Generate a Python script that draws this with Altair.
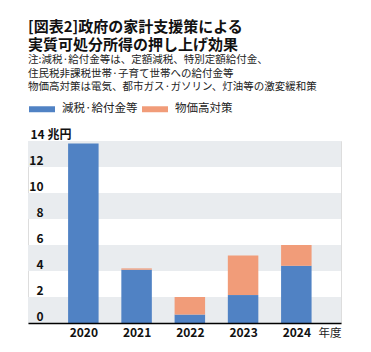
import altair as alt
import pandas as pd

years = [2020, 2021, 2022, 2023, 2024]
tax_benefit = [13.8, 4.1, 0.65, 2.15, 4.4]
price_measures = [0.0, 0.1, 1.35, 3.05, 1.6]
series = ["減税·給付金等", "物価高対策"]
colors = ["#5082c4", "#f19c79"]
band_lo = [0, 4, 8, 12]
band_hi = [2, 6, 10, 14]
y_ticks = [0, 2, 4, 6, 8, 10, 12, 14]

FONT = "Noto Sans CJK JP"

rows = []
for i, y in enumerate(years):
    rows.append({"year": y, "series": series[0], "value": tax_benefit[i], "ord": 0})
    rows.append({"year": y, "series": series[1], "value": price_measures[i], "ord": 1})
df = pd.DataFrame(rows)
bands = pd.DataFrame({"lo": band_lo, "hi": band_hi})

xscale = alt.Scale(domain=[2019.0545, 2024.745], nice=False, zero=False)
yscale = alt.Scale(domain=[0, 14], nice=False)

yaxis = alt.Axis(values=y_ticks, title=None, grid=False, domain=False, ticks=False,
                 labelFont=FONT, labelFontSize=12, labelFontWeight="bold",
                 labelColor="#111", labelFlush=False, labelOverlap=False,
                 labelBaseline="alphabetic", labelOffset=-2.5, zindex=1,
                 labelExpr="datum.value == 14 ? '14 兆円' : datum.label",
                 labelAlign={"condition": {"test": "datum.value == 14", "value": "left"}, "value": "right"},
                 labelPadding={"condition": {"test": "datum.value == 14", "value": -2}, "value": -15})

bg = alt.Chart(bands).mark_rect(color="#e9ecef").encode(
    x=alt.value(0), x2=alt.value(313),
    y=alt.Y("lo:Q", scale=yscale, axis=yaxis),
    y2="hi:Q",
)

bars = alt.Chart(df).mark_bar(size=30.5).encode(
    x=alt.X("year:Q", scale=xscale,
            axis=alt.Axis(values=years, format="d", title="年度", titleX=313, titleY=4,
                          titleAlign="right", titleBaseline="top", titleAngle=0,
                          titleFont=FONT, titleFontSize=11.5, titleFontWeight="normal",
                          titleColor="#222", zindex=1,
                          labelFont=FONT, labelFontSize=12, labelFontWeight="bold",
                          labelColor="#111", labelPadding=4, ticks=False, grid=False,
                          domainColor="#000", domainWidth=1.5, labelFlush=False)),
    y=alt.Y("value:Q", stack="zero", scale=yscale, axis=yaxis),
    color=alt.Color("series:N", scale=alt.Scale(domain=series, range=colors),
                    legend=alt.Legend(title=None, orient="none", legendX=0, legendY=-46,
                                      direction="horizontal", symbolType="M-1,-0.23H1V0.23H-1Z",
                                      symbolSize=676, symbolOpacity=1, labelFont=FONT,
                                      labelFontSize=11.5, labelColor="#222", labelOffset=6,
                                      columnPadding=3)),
    order=alt.Order("ord:Q"),
)

chart = alt.layer(bg, bars).properties(
    width=313, height=182,
    autosize=alt.AutoSizeParams(type="none"),
    padding={"left": 28, "top": 141, "right": 30, "bottom": 29},
    title=alt.TitleParams(
        text=["[図表2]政府の家計支援策による", "実質可処分所得の押し上げ効果"],
        subtitle=["注:減税·給付金等は、定額減税、特別定額給付金、",
                  "住民税非課税世帯·子育て世帯への給付金等",
                  "物価高対策は電気、都市ガス·ガソリン、灯油等の激変緩和策"],
        anchor="start", frame="group", font=FONT, fontSize=15, fontWeight="bold",
        lineHeight=18, color="#111", subtitleFont=FONT, subtitleFontSize=10.5,
        subtitleLineHeight=13.7, subtitleColor="#222", subtitlePadding=2, offset=2,
    ),
).configure_view(stroke=None).configure(background="white")

chart.save("out.html", embed_options={"renderer": "svg", "actions": False})
